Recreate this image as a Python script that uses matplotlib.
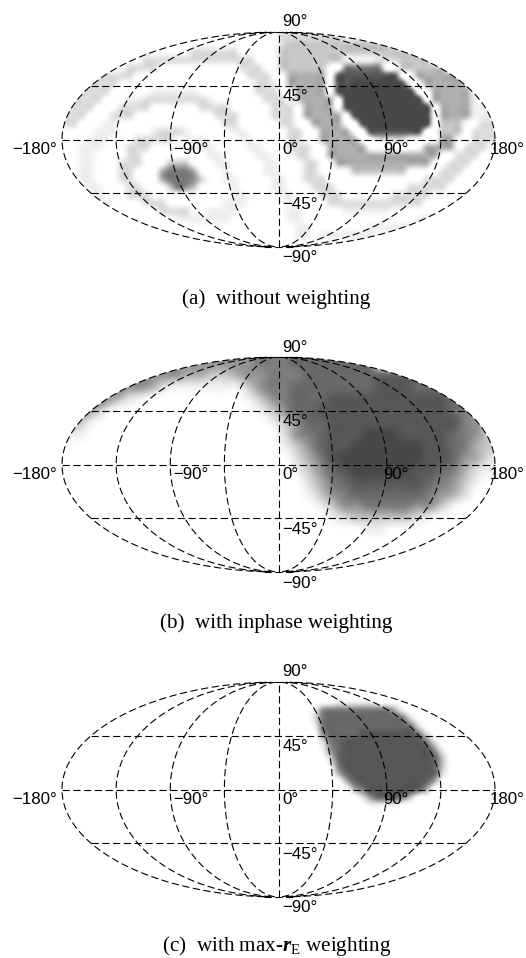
import numpy as np
import matplotlib
matplotlib.use("Agg")
import matplotlib.pyplot as plt
from matplotlib.colors import LinearSegmentedColormap
from matplotlib.patches import Ellipse

# gray level per map cell, 0 = white, 9 = darkest, rows run north to south
panel_a = [
    "0000000000 0000000000 0000000222 2222200000 0000000000 0000",
    "0000000000 0000000000 0000000233 3333333333 3000000000 0000",
    "0000000000 0000002222 2200000333 3333333333 3333300000 0000",
    "0000000000 2222222222 2222000333 3333311112 2233330000 0000",
    "0000000022 2200000000 0022200333 3330066666 0033333300 0000",
    "0000222220 0000000000 0002220044 4440888888 8800444444 0000",
    "0002222000 0000000000 0000221044 4440889999 9980044444 2000",
    "0022220000 0111111000 0000222004 4440899999 9999004444 4000",
    "0222200011 2222222210 0000022203 4444099999 9999904444 4100",
    "2222000222 2000000222 2000002220 4444089999 9999990444 4110",
    "2220002220 0000000002 2200002220 4444408999 9999990444 4111",
    "2200011000 0000000000 2200000220 0444400899 9999990333 0022",
    "0000111000 0122210000 0110000022 0044440088 8888800333 0222",
    "0001110002 2222011100 0011000022 0044444002 2220000440 0222",
    "0011100022 2000001110 0001100022 2004444400 0000044440 2220",
    "0011000022 0000000011 0000110002 2004444444 4444444002 2200",
    "0011000222 0003330001 1000011000 2200444444 4444440022 2000",
    "0011000220 0046664000 1000011000 2200003333 3330000222 0000",
    "0011000220 0046665200 1100001100 2220000000 0000022220 0000",
    "0001100022 0003653000 0100001100 0222000000 0002222200 0000",
    "0000100022 2000000000 0110000110 0022200000 0222220000 0000",
    "0000110000 2220000000 1110000010 0002222222 2222200000 0000",
    "0000000000 0022220011 1100000011 0000011111 1000000011 1000",
    "0000000000 0000111111 1000000011 0000000000 0000111110 0000",
    "0000000000 0000000000 0000000001 1000000011 1111100000 0000",
    "0000000000 0000000000 0000000001 1011111110 0000000000 0000",
    "0000000000 0000000000 0000000000 0000000000 0000000000 0000",
]
panel_b = [
    "0000000555 5555556667 7777770000 000000",
    "0000055555 4433455666 7777777777 777000",
    "0000555421 1111135667 7777778887 776600",
    "0055421000 0000013567 7788888888 887766",
    "0442000000 0000001357 7888888888 887655",
    "3310000000 0000000135 7788888888 888654",
    "1100000000 0000000025 6788899988 887653",
    "0000000000 0000000013 5788999999 887643",
    "0000000000 0000000002 4689999999 887542",
    "0000000000 0000000001 3578999998 876421",
    "0000000000 0000000000 2467888888 765310",
    "0000000000 0000000000 1356777777 654200",
    "0000000000 0000000000 0135566665 531000",
    "0000000000 0000000000 0012333332 100000",
    "0000000000 0000000000 0000011000 000000",
    "0000000000 0000000000 0000000000 000000",
    "0000000000 0000000000 0000000000 000000",
    "0000000000 0000000000 0000000000 000000",
]
panel_c = [
    "0000000000 0000000000 0000000000 0000000000 0000000000 0000",
    "0000000000 0000000000 0000000000 0000000000 0000000000 0000",
    "0000000000 0000000000 0000000000 0000111110 0000000000 0000",
    "0000000000 0000000000 0000000000 0156666666 6410000000 0000",
    "0000000000 0000000000 0000000000 0267777777 7762000000 0000",
    "0000000000 0000000000 0000000000 0167777777 7776200000 0000",
    "0000000000 0000000000 0000000000 0057777888 8888620000 0000",
    "0000000000 0000000000 0000000000 0026788888 8888862000 0000",
    "0000000000 0000000000 0000000000 0015788888 8888885100 0000",
    "0000000000 0000000000 0000000000 0003788888 8888887300 0000",
    "0000000000 0000000000 0000000000 0001688888 8888887300 0000",
    "0000000000 0000000000 0000000000 0000478888 8888887200 0000",
    "0000000000 0000000000 0000000000 0000047888 8888874000 0000",
    "0000000000 0000000000 0000000000 0000004688 8888740000 0000",
    "0000000000 0000000000 0000000000 0000000257 7763000000 0000",
    "0000000000 0000000000 0000000000 0000000011 1100000000 0000",
    "0000000000 0000000000 0000000000 0000000000 0000000000 0000",
    "0000000000 0000000000 0000000000 0000000000 0000000000 0000",
    "0000000000 0000000000 0000000000 0000000000 0000000000 0000",
    "0000000000 0000000000 0000000000 0000000000 0000000000 0000",
    "0000000000 0000000000 0000000000 0000000000 0000000000 0000",
    "0000000000 0000000000 0000000000 0000000000 0000000000 0000",
    "0000000000 0000000000 0000000000 0000000000 0000000000 0000",
    "0000000000 0000000000 0000000000 0000000000 0000000000 0000",
    "0000000000 0000000000 0000000000 0000000000 0000000000 0000",
    "0000000000 0000000000 0000000000 0000000000 0000000000 0000",
    "0000000000 0000000000 0000000000 0000000000 0000000000 0000",
]
captions = [
    "(a)  without weighting",
    "(b)  with inphase weighting",
    r"(c)  with max-$\mathbfit{r}_{\mathrm{E}}$ weighting",
]
gray_levels = ["#ffffff", "#f0f0f0", "#dedede", "#c8c8c8", "#afafaf", "#969696",
               "#7d7d7d", "#696969", "#585858", "#484848"]
lon_lines = [-180, -135, -90, -45, 0, 45, 90, 135, 180]
lat_lines = [-89.8, -45, 0, 45, 89.8]
lon_labels = [-180, -90, 0, 90, 180]
lat_labels = [90, 45, -45, -90]

W, H = 526, 958
plt.rcParams["font.family"] = ["Liberation Sans", "DejaVu Sans"]
plt.rcParams["mathtext.fontset"] = "custom"
plt.rcParams["mathtext.rm"] = "Liberation Serif"
plt.rcParams["mathtext.it"] = "Liberation Serif:italic"
plt.rcParams["mathtext.bf"] = "Liberation Serif:bold"
plt.rcParams["mathtext.bfit"] = "Liberation Serif:italic:bold"

gray = LinearSegmentedColormap.from_list("lv", gray_levels)


def to_array(rows):
    return np.array([[int(c) for c in r.replace(" ", "")] for r in rows])


def map_x(lon, lat):
    return lon * np.sqrt(np.clip(1 - (np.asarray(lat) / 90.0) ** 2, 0, 1))


def deg(v):
    return ("\u2212" if v < 0 else "") + "%d\u00b0" % abs(v)


def draw_map(top, bottom, panel, caption, cap_y):
    ax = fig.add_axes([62 / W, 1 - bottom / H, 433 / W, (bottom - top) / H])
    ax.set_xlim(-180, 180)
    ax.set_ylim(-90, 90)
    ax.axis("off")

    im = ax.imshow(to_array(panel), cmap=gray, vmin=0, vmax=9, aspect="auto",
                   extent=[-180, 180, -90, 90], interpolation="spline16", zorder=1)
    im.set_clip_path(Ellipse((0, 0), 360, 180, transform=ax.transData))

    dash = (0, (6.5, 3.2))
    lat = np.linspace(-89.8, 89.8, 400)
    for lon in lon_lines:
        ax.plot(map_x(lon, lat), lat, color="k", lw=0.8, ls=dash, zorder=2, clip_on=False)
    for la in lat_lines:
        xe = map_x(180, la)
        ax.plot([-xe, xe], [la, la], color="k", lw=0.8, ls=dash, zorder=2, clip_on=False)

    # tick labels
    for lon in lon_labels:
        if lon == -180:
            ax.annotate(deg(lon), (lon, 0), xytext=(-5, -10), textcoords="offset pixels",
                        ha="right", va="center", fontsize=12.2, zorder=3)
        elif lon == 180:
            ax.annotate(deg(lon), (lon, 0), xytext=(-5, -10), textcoords="offset pixels",
                        ha="left", va="center", fontsize=12.2, zorder=3)
        else:
            dx = {-90: 3, 0: 4, 90: -4}[lon]
            ax.annotate(deg(lon), (lon, 0), xytext=(dx, -10), textcoords="offset pixels",
                        ha="left", va="center", fontsize=12.2, zorder=3)
    for la in lat_labels:
        dy = {90: 10, 45: -11, -45: -11, -90: -11}[la]
        ax.annotate(deg(la), (0, la), xytext=(4, dy), textcoords="offset pixels",
                    ha="left", va="center", fontsize=12.2, zorder=3)

    fig.text(276.5 / W, 1 - cap_y / H, caption, ha="center", va="center",
             family=["Liberation Serif", "DejaVu Serif"], fontsize=15.2)


fig = plt.figure(figsize=(W / 100, H / 100), dpi=100)
draw_map(32, 247, panel_a, captions[0], 299)
draw_map(357, 572, panel_b, captions[1], 623.5)
draw_map(682, 897, panel_c, captions[2], 946)
fig.savefig("out.png", dpi=100)
